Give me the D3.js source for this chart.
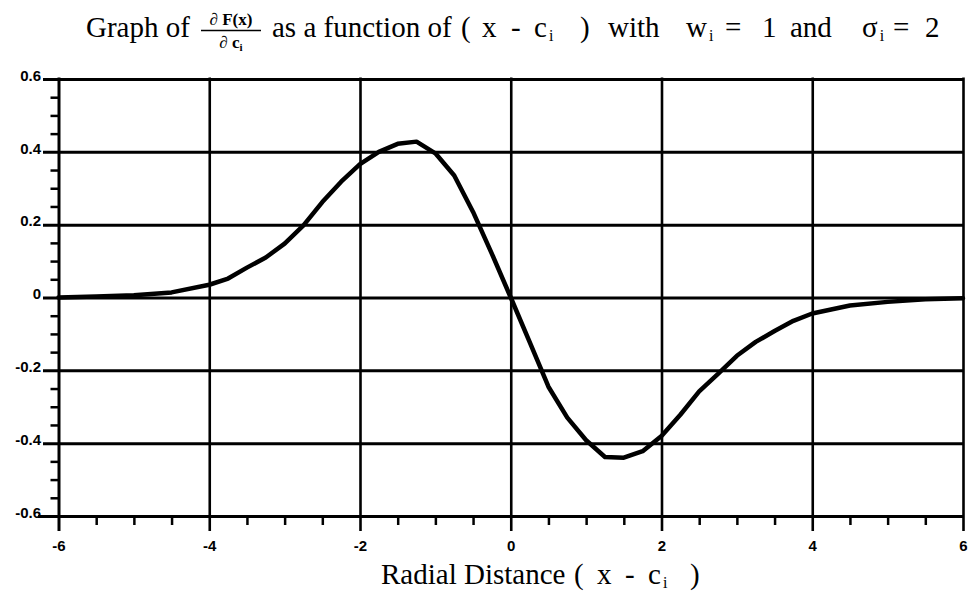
<!DOCTYPE html>
<html>
<head>
<meta charset="utf-8">
<script src="https://cdn.jsdelivr.net/npm/d3@7"></script>
<style>
  body { margin: 0; background: #fff; }
  svg { display: block; }
  .tick text { font-family: "Liberation Sans", Arial, sans-serif; font-weight: bold; font-size: 15px; fill: #000; }
  .serif { font-family: "Liberation Serif", "Times New Roman", serif; fill: #000; }
</style>
</head>
<body>
<svg id="chart" width="968" height="593"></svg>
<script>
// Radial distance (x - c_i) and the derivative dF/dc_i sampled along it
const radialDistance = [-6, -5.5, -5, -4.5, -4, -3.75, -3.5, -3.25, -3, -2.75, -2.5, -2.25, -2, -1.75, -1.5, -1.25, -1, -0.75, -0.5, -0.25, 0,
  0.25, 0.5, 0.75, 1, 1.25, 1.5, 1.75, 2, 2.25, 2.5, 2.75, 3, 3.25, 3.5, 3.75, 4, 4.5, 5, 5.5, 6];
const derivative = [0, 0.003, 0.006, 0.014, 0.035, 0.052, 0.082, 0.110, 0.148, 0.198, 0.262, 0.318, 0.366, 0.400, 0.422, 0.428, 0.396, 0.335, 0.235, 0.120, 0,
  -0.122, -0.245, -0.330, -0.392, -0.438, -0.440, -0.422, -0.380, -0.322, -0.258, -0.210, -0.160, -0.122, -0.092, -0.064, -0.044, -0.022, -0.012, -0.005, -0.002];

const xTicks = [-6, -4, -2, 0, 2, 4, 6];
const xTickLabels = ["-6", "-4", "-2", "0", "2", "4", "6"];
const xMinorTicks = [-5.5, -5, -4.5, -3.5, -3, -2.5, -1.5, -1, -0.5, 0.5, 1, 1.5, 2.5, 3, 3.5, 4.5, 5, 5.5];
const yTicks = [-0.6, -0.4, -0.2, 0, 0.2, 0.4, 0.6];
const yTickLabels = ["-0.6", "-0.4", "-0.2", "0", "0.2", "0.4", "0.6"];
const yMinorTicks = [-0.55, -0.5, -0.45, -0.35, -0.3, -0.25, -0.15, -0.1, -0.05, 0.05, 0.1, 0.15, 0.25, 0.3, 0.35, 0.45, 0.5, 0.55];

const svg = d3.select("#chart");
const plotLeft = 58.5, plotRight = 963, plotTop = 79, plotBottom = 516;

const x = d3.scaleLinear().domain([-6, 6]).range([plotLeft, plotRight]);
const y = d3.scaleLinear().domain([-0.6, 0.6]).range([plotBottom, plotTop]);

// Horizontal grid lines with value labels on the left
const yGrid = svg.append("g")
  .attr("transform", "translate(43,0)")
  .call(d3.axisLeft(y).tickValues(yTicks)
    .tickFormat((d, i) => yTickLabels[i])
    .tickSize(-(plotRight - 43)).tickPadding(2));
yGrid.select(".domain").remove();
yGrid.selectAll("line").attr("stroke", "#000").attr("stroke-width", 3);
yGrid.selectAll("text").attr("dy", "0.08em");
yGrid.select(".tick:first-of-type line").attr("x1", -5);

// Vertical grid lines; the outer ones form the left axis and right border
const xGrid = svg.append("g")
  .attr("transform", "translate(0,531)")
  .call(d3.axisBottom(x).tickValues(xTicks)
    .tickFormat((d, i) => xTickLabels[i])
    .tickSize(-(531 - plotTop + 1.5)).tickPadding(9));
xGrid.select(".domain").remove();
xGrid.selectAll("line").attr("stroke", "#000").attr("stroke-width", 2.6);
xGrid.selectAll(".tick").filter(d => d === -6).select("line").attr("stroke-width", 3);

// Minor ticks
const yMinor = svg.append("g")
  .attr("transform", `translate(${plotLeft},0)`)
  .call(d3.axisLeft(y).tickValues(yMinorTicks).tickFormat("").tickSize(8));
yMinor.select(".domain").remove();
yMinor.selectAll("line").attr("stroke", "#000").attr("stroke-width", 2.5);

const xMinor = svg.append("g")
  .attr("transform", `translate(0,${plotBottom})`)
  .call(d3.axisBottom(x).tickValues(xMinorTicks).tickFormat("").tickSize(9));
xMinor.select(".domain").remove();
xMinor.selectAll("line").attr("stroke", "#000").attr("stroke-width", 2.5);

// The derivative curve
const pts = radialDistance.map((d, i) => [d, derivative[i]]);
svg.append("path")
  .datum(pts)
  .attr("fill", "none")
  .attr("stroke", "#000")
  .attr("stroke-width", 4.5)
  .attr("stroke-linejoin", "round")
  .attr("stroke-linecap", "round")
  .attr("d", d3.line().x(d => x(d[0])).y(d => y(d[1])));

// Title
const title = svg.append("g").attr("class", "serif");
const tBase = 37, tSize = 29;
function word(g, txt, xPos, yPos, size) {
  return g.append("text").attr("x", xPos).attr("y", yPos).attr("font-size", size).text(txt);
}
function withSub(g, txt, xPos, yPos, size) {
  const t = g.append("text").attr("x", xPos).attr("y", yPos).attr("font-size", size);
  t.append("tspan").text(txt);
  t.append("tspan").attr("font-size", size * 0.55).attr("dy", size * 0.15).attr("dx", 2).text("i");
  return t;
}
word(title, "Graph of", 86, tBase, tSize);
// fraction ∂F(x) / ∂c_i
title.append("text").attr("x", 231).attr("y", 25).attr("font-size", 17).attr("font-weight", "bold")
  .attr("text-anchor", "middle").text("\u2202 F(x)");
title.append("line").attr("x1", 201).attr("x2", 261).attr("y1", 30.5).attr("y2", 30.5)
  .attr("stroke", "#000").attr("stroke-width", 1.6);
const den = title.append("text").attr("x", 231).attr("y", 48).attr("font-size", 17).attr("font-weight", "bold")
  .attr("text-anchor", "middle");
den.append("tspan").text("\u2202 c");
den.append("tspan").attr("font-size", 11).attr("dy", 3).text("i");
word(title, "as a function of", 272, tBase, tSize);
word(title, "(", 461, tBase, tSize);
word(title, "x", 482, tBase, tSize);
word(title, "-", 511, tBase, tSize);
withSub(title, "c", 534, tBase, tSize);
word(title, ")", 580, tBase, tSize);
word(title, "with", 608, tBase, tSize);
withSub(title, "w", 686, tBase, tSize);
word(title, "=", 725, tBase, tSize);
word(title, "1", 762, tBase, tSize);
word(title, "and", 790, tBase, tSize);
withSub(title, "\u03c3", 862, tBase, tSize);
word(title, "=", 893, tBase, tSize);
word(title, "2", 925, tBase, tSize);

// Axis title
const xt = svg.append("g").attr("class", "serif");
const aBase = 584, aSize = 29;
word(xt, "Radial Distance", 381, aBase, aSize);
word(xt, "(", 574, aBase, aSize);
word(xt, "x", 597, aBase, aSize);
word(xt, "-", 625, aBase, aSize);
withSub(xt, "c", 648, aBase, aSize);
word(xt, ")", 690, aBase, aSize);
</script>
</body>
</html>
